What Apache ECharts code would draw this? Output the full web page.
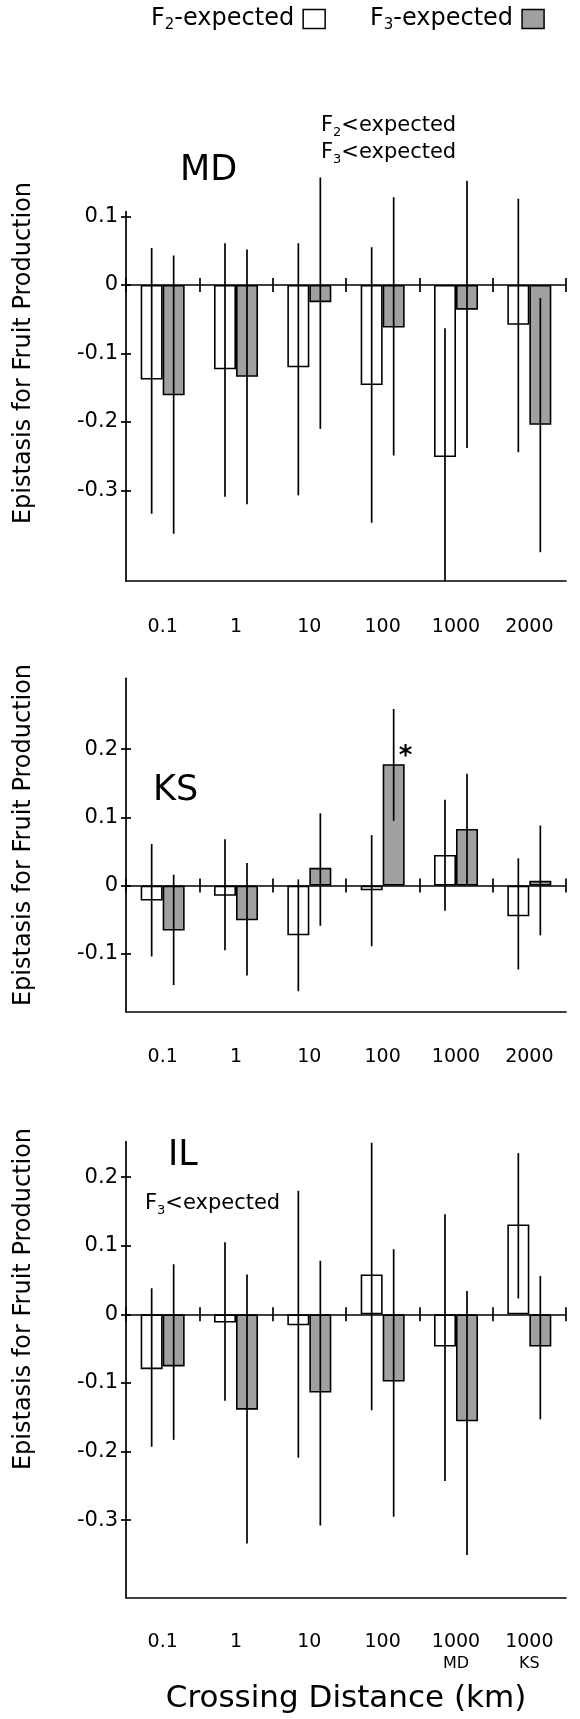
<!DOCTYPE html>
<html><head><meta charset="utf-8">
<script src="https://cdn.jsdelivr.net/npm/echarts@6/dist/echarts.min.js"></script>
<style>html,body{margin:0;padding:0;background:#fff}#c{width:580px;height:1719px}</style>
</head><body><div id="c"></div>
<script>
// ---------- DATA ----------
const catsMD = ['0.1', '1', '10', '100', '1000', '2000'];
const catsKS = ['0.1', '1', '10', '100', '1000', '2000'];
const catsIL = ['0.1', '1', '10', '100', '1000\nMD', '1000\nKS'];

const mdF2   = [-0.138, -0.123, -0.120, -0.146, -0.251, -0.058];
const mdF2Lo = [-0.334, -0.309, -0.307, -0.347, -0.432, -0.244];
const mdF2Hi = [ 0.054,  0.061,  0.061,  0.055, -0.063,  0.126];
const mdF3   = [-0.161, -0.134, -0.025, -0.062, -0.036, -0.204];
const mdF3Lo = [-0.363, -0.320, -0.210, -0.249, -0.238, -0.390];
const mdF3Hi = [ 0.043,  0.052,  0.157,  0.128,  0.152, -0.019];

const ksF2   = [-0.022, -0.015, -0.073, -0.007,  0.045, -0.045];
const ksF2Lo = [-0.104, -0.095, -0.155, -0.089, -0.037, -0.123];
const ksF2Hi = [ 0.061,  0.068,  0.009,  0.074,  0.126,  0.040];
const ksF3   = [-0.066, -0.051,  0.026,  0.178,  0.083,  0.007];
const ksF3Lo = [-0.146, -0.132, -0.059,  0.095,  0.001, -0.073];
const ksF3Hi = [ 0.016,  0.033,  0.106,  0.259,  0.164,  0.088];
const ksF3Marks = ['', '', '', '*', '', ''];

const ilF2   = [-0.080, -0.012, -0.016,  0.058, -0.047,  0.131];
const ilF2Lo = [-0.193, -0.126, -0.209, -0.140, -0.243,  0.023];
const ilF2Hi = [ 0.038,  0.105,  0.180,  0.250,  0.146,  0.235];
const ilF3   = [-0.076, -0.139, -0.114, -0.098, -0.156, -0.047];
const ilF3Lo = [-0.183, -0.334, -0.308, -0.295, -0.351, -0.153];
const ilF3Hi = [ 0.073,  0.058,  0.078,  0.095,  0.034,  0.056];

const ticksMD = [-0.3, -0.2, -0.1, 0, 0.1];
const ticksKS = [-0.1, 0, 0.1, 0.2];
const ticksIL = [-0.3, -0.2, -0.1, 0, 0.1, 0.2];
const rangeMD = [-0.432, 0.107];
const rangeKS = [-0.185, 0.304];
const rangeIL = [-0.4125, 0.2516];

const seriesNames = ['F2-expected', 'F3-expected'];
const yTitle = 'Epistasis for Fruit Production';
const xTitle = 'Crossing Distance (km)';

// ---------- STYLE / LAYOUT ----------
const FONT = 'DejaVu Sans';
const BLACK = '#000';
const GRAY = '#a0a0a0';
const LW = 1.7;

const panels = [
  {title: 'MD', cats: catsMD, f2: mdF2, f2lo: mdF2Lo, f2hi: mdF2Hi, f3: mdF3, f3lo: mdF3Lo, f3hi: mdF3Hi,
   marks: null, ticks: ticksMD, range: rangeMD, top: 211.7, height: 369.3, labelMargin: 35,
   titlePos: [180, 171], yTitleY: 353},
  {title: 'KS', cats: catsKS, f2: ksF2, f2lo: ksF2Lo, f2hi: ksF2Hi, f3: ksF3, f3lo: ksF3Lo, f3hi: ksF3Hi,
   marks: ksF3Marks, ticks: ticksKS, range: rangeKS, top: 678.3, height: 333.4, labelMargin: 34,
   titlePos: [153, 791], yTitleY: 835},
  {title: 'IL', cats: catsIL, f2: ilF2, f2lo: ilF2Lo, f2hi: ilF2Hi, f3: ilF3, f3lo: ilF3Lo, f3hi: ilF3Hi,
   marks: null, ticks: ticksIL, range: rangeIL, top: 1141.7, height: 455.6, labelMargin: 34,
   titlePos: [168, 1156], yTitleY: 1299}
];

const annRich = {
  n: {fontSize: 21, fontFamily: FONT, color: BLACK, lineHeight: 26},
  s: {fontSize: 13, fontFamily: FONT, color: BLACK, lineHeight: 14, verticalAlign: 'bottom'}
};
const legRich = {
  n: {fontSize: 24, fontFamily: FONT, color: BLACK, lineHeight: 28},
  s: {fontSize: 15, fontFamily: FONT, color: BLACK, lineHeight: 15, verticalAlign: 'bottom'}
};

function errRender(offset) {
  return function (params, api) {
    const idx = api.value(0);
    const bw = api.size([1, 0])[0];
    const p1 = api.coord([idx, api.value(1)]);
    const p2 = api.coord([idx, api.value(2)]);
    const x = p1[0] + offset * bw;
    return {type: 'line', shape: {x1: x, y1: p1[1], x2: x, y2: p2[1]},
            style: {stroke: BLACK, lineWidth: 1.7}};
  };
}

const grid = [], xAxis = [], yAxis = [], series = [], graphic = [];

panels.forEach((p, i) => {
  grid.push({left: 126, width: 440, top: p.top, height: p.height, outerBoundsMode: 'none', containLabel: false});
  const isLast = i === panels.length - 1;
  // labelled bottom axis (frame bottom line)
  xAxis.push({
    type: 'category', gridIndex: i, data: p.cats, position: 'bottom',
    axisLine: {show: true, onZero: false, lineStyle: {color: BLACK, width: LW}},
    axisTick: {show: false}, splitLine: {show: false},
    axisLabel: {
      margin: p.labelMargin, interval: 0, color: BLACK,
      formatter: v => {
        const parts = v.split('\n');
        return parts.length > 1 ? `{m|${parts[0]}}\n{s|${parts[1]}}` : `{m|${parts[0]}}`;
      },
      rich: {m: {fontSize: 19, fontFamily: FONT, color: BLACK, lineHeight: 22},
             s: {fontSize: 16, fontFamily: FONT, color: BLACK, lineHeight: 21}}
    },
    name: isLast ? xTitle : '', nameLocation: 'middle', nameGap: 86,
    nameTextStyle: {fontSize: 31, fontFamily: FONT, color: BLACK}
  });
  // zero line with downward ticks
  xAxis.push({
    type: 'category', gridIndex: i, data: p.cats, position: 'bottom',
    axisLine: {show: true, onZero: true, lineStyle: {color: BLACK, width: LW}},
    axisTick: {show: true, length: 7, lineStyle: {color: BLACK, width: LW}},
    axisLabel: {show: false}, splitLine: {show: false}
  });
  // zero line upward ticks
  xAxis.push({
    type: 'category', gridIndex: i, data: p.cats, position: 'top',
    axisLine: {show: false, onZero: true},
    axisTick: {show: true, length: 7, lineStyle: {color: BLACK, width: LW}},
    axisLabel: {show: false}, splitLine: {show: false}
  });
  yAxis.push({
    type: 'value', gridIndex: i, min: p.range[0], max: p.range[1], position: 'left',
    axisLine: {show: true, onZero: false, lineStyle: {color: BLACK, width: LW}},
    axisTick: {show: true, length: 5, customValues: p.ticks, lineStyle: {color: BLACK, width: LW}},
    axisLabel: {customValues: p.ticks, margin: 8, color: BLACK, fontSize: 21, fontFamily: FONT,
                formatter: v => String(Math.round(v * 10) / 10)},
    splitLine: {show: false}
  });
  yAxis.push({
    type: 'value', gridIndex: i, min: p.range[0], max: p.range[1], position: 'left',
    axisLine: {show: false, onZero: false},
    axisTick: {show: true, inside: true, length: 5, customValues: p.ticks, lineStyle: {color: BLACK, width: LW}},
    axisLabel: {show: false}, splitLine: {show: false}
  });

  const xi = i * 3, yi = i * 2;
  series.push({
    name: seriesNames[0], type: 'bar', xAxisIndex: xi, yAxisIndex: yi,
    barWidth: '30%', barGap: '0%',
    itemStyle: {color: '#fff', borderColor: BLACK, borderWidth: 1.6},
    data: p.f2
  });
  series.push({
    name: seriesNames[1], type: 'bar', xAxisIndex: xi, yAxisIndex: yi,
    barWidth: '30%', barGap: '0%',
    itemStyle: {color: GRAY, borderColor: BLACK, borderWidth: 1.6},
    data: p.f3.map((v, k) => {
      const m = p.marks ? p.marks[k] : '';
      if (!m) return v;
      return {value: v, label: {show: true, formatter: m, position: 'top', distance: 0, offset: [12, 6],
              fontSize: 26, fontWeight: 'bold', fontFamily: FONT, color: BLACK}};
    })
  });
  series.push({
    type: 'custom', xAxisIndex: xi, yAxisIndex: yi, z: 5, clip: false,
    renderItem: errRender(-0.15), encode: {x: 0, y: [1, 2]},
    data: p.f2.map((v, k) => [k, p.f2lo[k], p.f2hi[k]])
  });
  series.push({
    type: 'custom', xAxisIndex: xi, yAxisIndex: yi, z: 5, clip: false,
    renderItem: errRender(0.15), encode: {x: 0, y: [1, 2]},
    data: p.f3.map((v, k) => [k, p.f3lo[k], p.f3hi[k]])
  });

  graphic.push({type: 'text', x: p.titlePos[0], y: p.titlePos[1],
    style: {text: p.title, fontSize: 35, fontFamily: FONT, fill: BLACK, align: 'left', verticalAlign: 'middle'}});
  graphic.push({type: 'text', x: 24, y: p.yTitleY, rotation: Math.PI / 2,
    style: {text: yTitle, fontSize: 24, fontFamily: FONT, fill: BLACK, align: 'center', verticalAlign: 'middle'}});
});

// annotations
graphic.push({type: 'text', x: 321, y: 126,
  style: {text: '{n|F}{s|2}{n|<expected}', rich: annRich, align: 'left', verticalAlign: 'middle'}});
graphic.push({type: 'text', x: 321, y: 153,
  style: {text: '{n|F}{s|3}{n|<expected}', rich: annRich, align: 'left', verticalAlign: 'middle'}});
graphic.push({type: 'text', x: 145, y: 1204,
  style: {text: '{n|F}{s|3}{n|<expected}', rich: annRich, align: 'left', verticalAlign: 'middle'}});

const option = {
  animation: false,
  backgroundColor: '#fff',
  legend: {
    left: 146, top: 2, align: 'right', itemGap: 44, itemWidth: 22, itemHeight: 19,
    selectedMode: false, icon: 'rect',
    data: [
      {name: seriesNames[0], itemStyle: {color: '#fff', borderColor: BLACK, borderWidth: 1.5}},
      {name: seriesNames[1], itemStyle: {color: GRAY, borderColor: BLACK, borderWidth: 1.5}}
    ],
    formatter: name => name === seriesNames[0] ? '{n|F}{s|2}{n|-expected}' : '{n|F}{s|3}{n|-expected}',
    textStyle: {rich: legRich, color: BLACK, padding: [0, 4, 0, 0]}
  },
  grid, xAxis, yAxis, series, graphic
};

const chart = echarts.init(document.getElementById('c'), null, {renderer: 'canvas'});
chart.setOption(option);
</script>
</body></html>
